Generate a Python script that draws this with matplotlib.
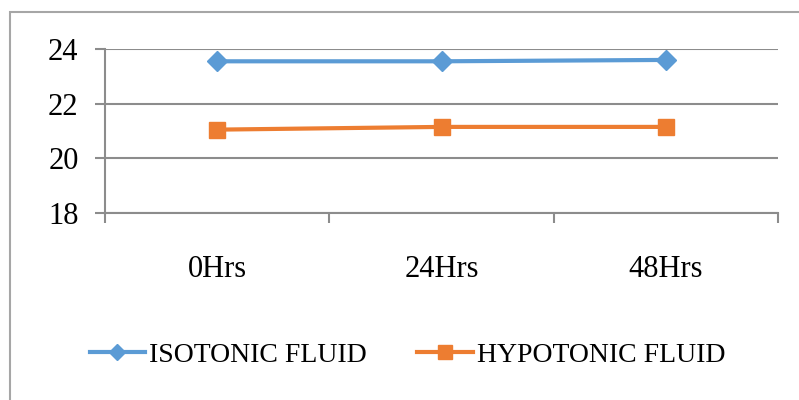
import matplotlib
matplotlib.use("Agg")
import matplotlib.pyplot as plt
from matplotlib.patches import Rectangle

categories = ["0Hrs", "24Hrs", "48Hrs"]
isotonic = [23.55, 23.55, 23.6]
hypotonic = [21.05, 21.15, 21.15]
y_ticks = [18, 20, 22, 24]

plt.rcParams['font.family'] = ['Liberation Serif', 'DejaVu Serif']

fig = plt.figure(figsize=(7.99, 4.0), dpi=100)
ax = fig.add_axes([105 / 799, 1 - 213 / 400, 673 / 799, 164 / 400])

# outer chart border (cut off on right and bottom like the reference)
fig.patches.append(Rectangle((10 / 799, -0.1), 1.2, 1 - 12 / 400 + 0.1,
                             transform=fig.transFigure, fill=False,
                             edgecolor='#a6a6a6', linewidth=1.5))

xs = [i + 0.5 for i in range(len(categories))]
ax.plot(xs, isotonic, color='#5B9BD5', lw=3, marker='D', markersize=10,
        label='ISOTONIC FLUID')
ax.plot(xs, hypotonic, color='#ED7D31', lw=3, marker='s', markersize=12,
        label='HYPOTONIC FLUID')

ax.set_xlim(0, 3)
ax.set_ylim(18, 24)
ax.set_yticks(y_ticks)
ax.set_xticks([0, 1, 2, 3])
ax.set_xticklabels([])
ax.set_xticks(xs, minor=True)
ax.set_xticklabels(categories, minor=True)

ax.grid(axis='y', color='#8c8c8c', lw=1.5)
ax.set_axisbelow(True)
for s in ['top', 'right']:
    ax.spines[s].set_visible(False)
for s in ['left', 'bottom']:
    ax.spines[s].set_color('#8c8c8c')
    ax.spines[s].set_linewidth(1.5)

ax.tick_params(axis='y', length=7, width=1.5, color='#8c8c8c', pad=12,
               labelsize=22)
ax.tick_params(axis='x', which='major', length=7, width=1.5, color='#8c8c8c')
ax.tick_params(axis='x', which='minor', length=0, pad=30, labelsize=22)

fig.legend(loc='center', bbox_to_anchor=(0.51, 1 - 355 / 400), ncol=2,
           frameon=False, fontsize=20, handlelength=2.0, handletextpad=0.15,
           columnspacing=1.8, markerscale=0.85)

fig.savefig('out.png', dpi=100)
